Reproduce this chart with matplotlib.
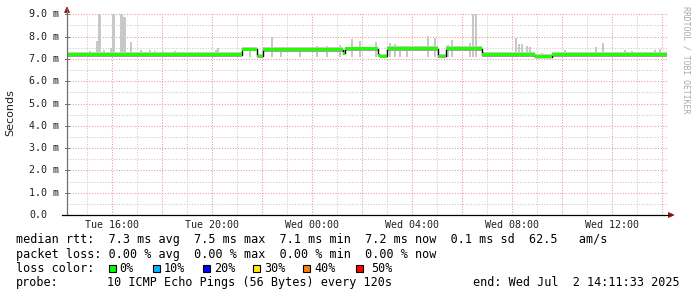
import matplotlib
matplotlib.use('Agg')
import matplotlib.pyplot as plt
import numpy as np
from matplotlib.patches import Polygon, Rectangle
from matplotlib.lines import Line2D
from matplotlib.transforms import blended_transform_factory

# ---------------- data (hours relative to Wed 00:00) ----------------
t_start = -9.8075          # Tue 14:11:33
t_end = 14.1925            # Wed 14:11:33

# median rtt (ms) as steps: segment start hour and value
med_t = [-9.8075, -2.82, -2.20, -1.96, 1.24, 1.32, 2.62, 2.72, 2.98, 5.04, 5.36, 6.80, 8.92, 9.60]
med_v = [7.18, 7.43, 7.13, 7.42, 7.25, 7.45, 7.17, 7.12, 7.45, 7.13, 7.45, 7.18, 7.10, 7.18]

# smoke band (ms) per segment: low and high
smoke_lo = [7.08, 7.35, 7.05, 7.33, 7.20, 7.35, 7.10, 7.05, 7.35, 7.05, 7.35, 7.10, 7.02, 7.10]
smoke_hi = [7.30, 7.54, 7.22, 7.53, 7.40, 7.55, 7.25, 7.22, 7.56, 7.22, 7.56, 7.30, 7.24, 7.30]

# smoke spikes: hour and top value (ms)
spike_t = [-8.61, -8.54, -8.50, -8.34, -8.04, -7.98, -7.92, -7.66, -7.62, -7.54, -7.50,
           -7.24, -6.48, -6.28, -3.76, -1.60, 0.19, 0.60, 1.12, 1.60, 1.92, 2.56, 3.12,
           3.32, 4.64, 4.92, 5.60, 6.32, 6.44, 6.56, 8.15, 8.28, 8.40, 8.60, 8.72, 10.12,
           11.36, 11.64, 12.52, 13.92,
           -9.68, -8.88, -6.84, -5.96, -5.48, -4.76, -3.84, -3.36, -2.48, -1.24, -0.48,
           3.52, 3.80, 5.44, 7.84, 9.20, 10.84, 12.80, 13.72]
spike_v = [7.80, 9.00, 9.00, 7.40, 7.50, 9.00, 9.00, 9.00, 9.00, 8.90, 8.90,
           7.75, 7.40, 7.35, 7.50, 7.97, 7.60, 7.60, 7.62, 7.88, 7.80, 7.78, 7.70,
           7.65, 8.03, 7.94, 7.83, 7.70, 9.00, 9.00, 7.94, 7.65, 7.65, 7.60, 7.55, 7.38,
           7.53, 7.71, 7.40, 7.45,
           7.33, 7.35, 7.38, 7.35, 7.35, 7.30, 7.40, 7.30, 7.55, 7.55, 7.55,
           7.60, 7.58, 7.62, 7.30, 7.28, 7.30, 7.35, 7.38]

y_ticks = [0, 1, 2, 3, 4, 5, 6, 7, 8, 9]
y_labels = ["0.0", "1.0 m", "2.0 m", "3.0 m", "4.0 m", "5.0 m", "6.0 m", "7.0 m", "8.0 m", "9.0 m"]
x_ticks = [-8, -4, 0, 4, 8, 12]
x_labels = ["Tue 16:00", "Tue 20:00", "Wed 00:00", "Wed 04:00", "Wed 08:00", "Wed 12:00"]

legend_line1 = "median rtt:  7.3 ms avg  7.5 ms max  7.1 ms min  7.2 ms now  0.1 ms sd  62.5   am/s"
legend_line2 = "packet loss: 0.00 % avg  0.00 % max  0.00 % min  0.00 % now"
loss_title = "loss color:"
loss_labels = ["0%", "10%", "20%", "30%", "40%", "50%"]
loss_colors = ["#00ff00", "#00b8ff", "#0000ff", "#ffee00", "#ff8000", "#ff0000"]
probe_label = "probe:"
probe_text = "10 ICMP Echo Pings (56 Bytes) every 120s"
end_text = "end: Wed Jul  2 14:11:33 2025"
ylabel = "Seconds"
watermark = "RRDTOOL / TOBI OETIKER"

# ---------------- layout ----------------
W, H = 697, 297
fig = plt.figure(figsize=(W / 100, H / 100), dpi=100, facecolor='white')


def fx(x):
    return x / W


def fy(y):
    return 1 - y / H


ax = fig.add_axes([fx(67), fy(215), 600 / W, (215 - 14.3) / H])
ax.set_xlim(t_start, t_end)
ax.set_ylim(0, 9)
ax.set_facecolor('white')
for s in ax.spines.values():
    s.set_visible(False)
ax.set_xticks([])
ax.set_yticks([])

mono = 'DejaVu Sans Mono'
minor_c = '#c8c8c8'
major_c = '#e59a9a'
dot = (0, (1, 1.6))

# grid: minor
for v in np.arange(0.5, 9.0, 1.0):
    ax.axhline(v, color=minor_c, lw=0.75, ls=dot, zorder=1)
for h in range(-9, 15, 2):
    ax.axvline(h, color=minor_c, lw=0.75, ls=dot, zorder=1)
# grid: major
for v in range(1, 10):
    ax.axhline(v, color=major_c, lw=0.75, ls=dot, zorder=1, clip_on=False)
for h in range(-8, 15, 2):
    ax.axvline(h, color=major_c, lw=0.75, ls=dot, zorder=1)

# smoke
t_edges = med_t + [t_end]
ax.fill_between(t_edges, smoke_lo + [smoke_lo[-1]], smoke_hi + [smoke_hi[-1]],
                step='post', color='#c8c8c8', lw=0, zorder=2)
ax.bar(spike_t, np.array(spike_v) - 7.1, bottom=7.1, width=0.08, color='#c8c8c8',
       lw=0, zorder=2)
# median: black step line + green loss band
mv = np.array(med_v + [med_v[-1]])
ax.step(t_edges, mv, where='post', color='black', lw=1.0, zorder=3)
ax.fill_between(t_edges, mv - 0.065, mv + 0.065, step='post', color='#20ff00', lw=0, zorder=4)

# axes lines
fig.add_artist(Line2D([fx(67), fx(67)], [fy(215), fy(9)], color='#707070', lw=0.9,
                      transform=fig.transFigure))
fig.add_artist(Line2D([fx(62), fx(668)], [fy(215), fy(215)], color='black', lw=0.9,
                      transform=fig.transFigure))
arrow_c = '#8b1010'
fig.add_artist(Polygon([(fx(64.5), fy(12.5)), (fx(69.5), fy(12.5)), (fx(67), fy(7))],
                       closed=True, fc=arrow_c, ec=arrow_c, lw=0.5, transform=fig.transFigure))
fig.add_artist(Polygon([(fx(668.5), fy(212.5)), (fx(668.5), fy(217.5)), (fx(674), fy(215))],
                       closed=True, fc=arrow_c, ec=arrow_c, lw=0.5, transform=fig.transFigure))

# y tick labels
ty = blended_transform_factory(fig.transFigure, ax.transData)
for v, lab in zip(y_ticks, y_labels):
    ax.text(fx(29), v, lab, transform=ty, ha='left', va='center', family=mono,
            fontsize=7.2, color='#202020')
    ax.add_line(Line2D([fx(65), fx(69)], [v, v], transform=ty, color='#707070', lw=0.7,
                       clip_on=False))
# x tick labels
tx = blended_transform_factory(ax.transData, fig.transFigure)
for h, lab in zip(x_ticks, x_labels):
    ax.text(h, fy(225), lab, transform=tx, ha='center', va='center', family=mono,
            fontsize=7.2, color='#202020')

fig.text(fx(10), fy(113), ylabel, rotation=90, ha='center', va='center',
         family='DejaVu Sans', fontsize=8, color='#202020')
fig.text(fx(686), fy(59.5), watermark, rotation=270, ha='center', va='center',
         family=mono, fontsize=5.9, color='#a8a8a8')

# legend
fs = 8.5
fig.text(fx(16), fy(240), legend_line1, ha='left', va='center', family=mono, fontsize=fs)
fig.text(fx(16), fy(254.5), legend_line2, ha='left', va='center', family=mono, fontsize=fs)
fig.text(fx(16), fy(268.5), loss_title, ha='left', va='center', family=mono, fontsize=fs)
sq_x = [109, 153, 203, 253, 303, 356]
tx_x = [119.5, 164, 214, 264, 314, 371]
for sx, lx, lab, c in zip(sq_x, tx_x, loss_labels, loss_colors):
    fig.add_artist(Rectangle((fx(sx), fy(272)), 7 / W, 7 / H, transform=fig.transFigure,
                             fc=c, ec='black', lw=0.8))
    fig.text(fx(lx), fy(268.5), lab, ha='left', va='center', family=mono, fontsize=fs)
fig.text(fx(16), fy(282.7), probe_label, ha='left', va='center', family=mono, fontsize=fs)
fig.text(fx(107), fy(282.7), probe_text, ha='left', va='center', family=mono, fontsize=fs)
fig.text(fx(680), fy(282.7), end_text, ha='right', va='center', family=mono, fontsize=fs)

fig.savefig('out.png', dpi=100, facecolor='white')
